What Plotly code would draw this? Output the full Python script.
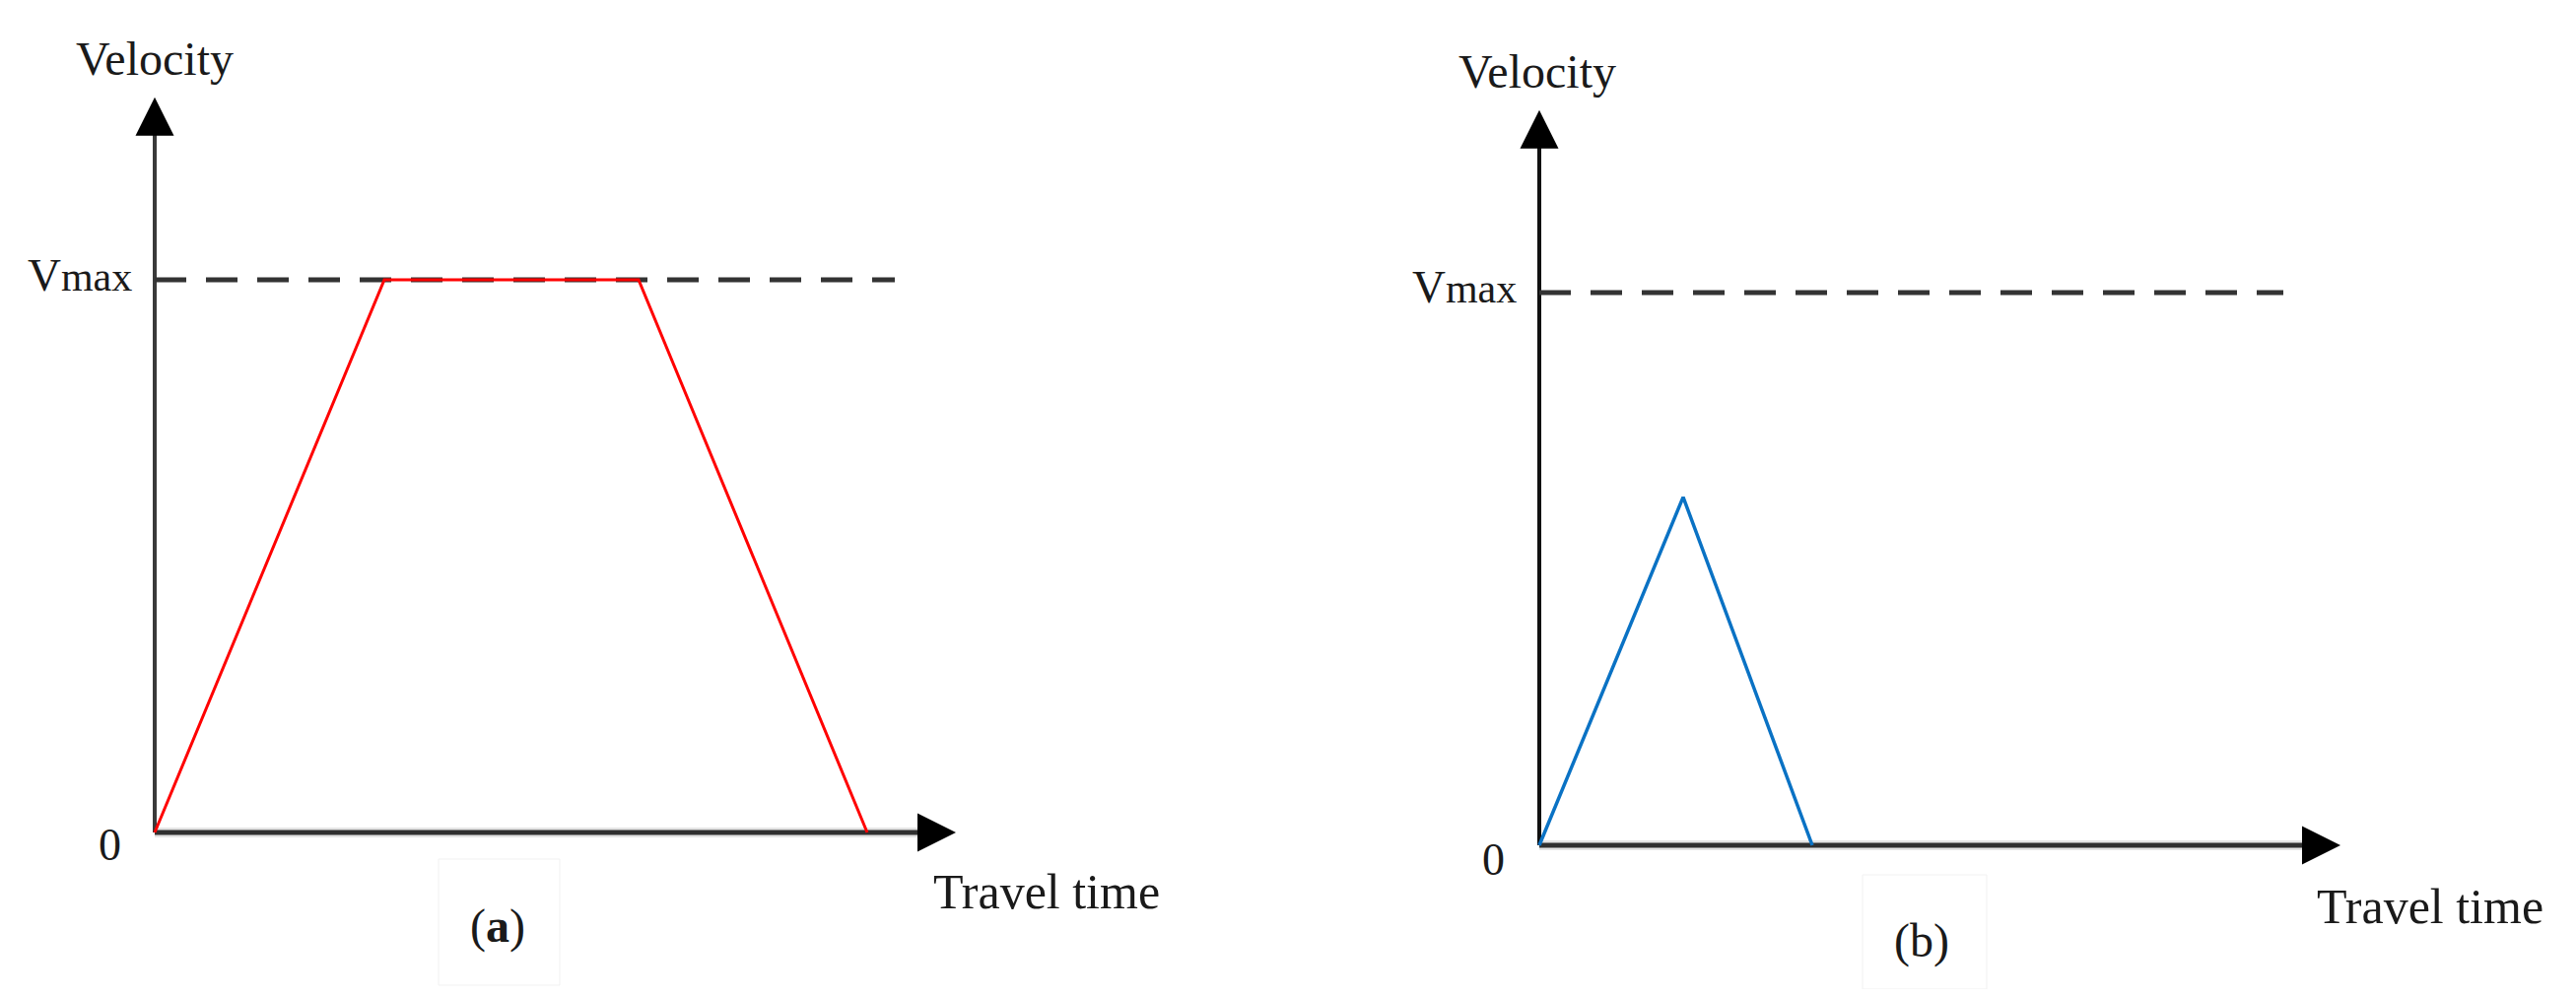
import plotly.graph_objects as go

# page (screenshot) size and the default 8px body margin of the html page
PAGE_W, PAGE_H = 2614, 1012
BODY = 8
W, H = PAGE_W - 2 * BODY, PAGE_H - 2 * BODY

# ---------------- data ----------------
VMAX = 1.0
time_a = [0, 2.33, 4.91, 7.23]          # trapezoidal profile (a)
vel_a = [0, 1.0, 1.0, 0]
time_b = [0, 1.46, 2.77]                # triangular profile (b)
vel_b = [0, 0.63, 0]
X_AXIS_END = 8.13
Y_AXIS_END = 1.33
VMAX_LINE_END = [7.51, 7.55]
panel_labels = ["(<b>a</b>)", "(b)"]
x_title = "Travel time"
y_title = "Velocity"
vmax_label = "V<span style='font-size:42px'>max</span>"
zero_label = "0"

# ---------------- geometry (page pixels) ----------------
PX_X = 100.0
PX_Y = 561.0
origins = [(157, 845), (1562, 858)]
dom_px = [(BODY, 1300), (1307, PAGE_W - BODY)]
FONT = "Liberation Serif"
TXT = "#1a1a1a"
AX = "#303030"

fig = go.Figure()

profiles = [(time_a, vel_a, "#FF0000", 3), (time_b, vel_b, "#0A72C4", 3.5)]

for i in range(2):
    xa = "x" if i == 0 else "x2"
    ya = "y" if i == 0 else "y2"
    fig.add_trace(go.Scatter(x=[0, X_AXIS_END - 0.2], y=[0, 0], mode="lines",
                             line=dict(color="#e4e4e4", width=10), xaxis=xa, yaxis=ya,
                             hoverinfo="skip", showlegend=False))
    fig.add_trace(go.Scatter(x=[0, X_AXIS_END - 0.2], y=[0, 0], mode="lines",
                             line=dict(color=AX, width=5), xaxis=xa, yaxis=ya,
                             hoverinfo="skip", showlegend=False))
    fig.add_trace(go.Scatter(x=[0, 0], y=[0, Y_AXIS_END - 0.035], mode="lines",
                             line=dict(color="#3a3a3a" if i == 0 else "#111111", width=4),
                             xaxis=xa, yaxis=ya, hoverinfo="skip", showlegend=False))
    fig.add_trace(go.Scatter(x=[0, VMAX_LINE_END[i]], y=[VMAX, VMAX], mode="lines",
                             line=dict(color="#333333", width=5, dash="32px,20px"),
                             xaxis=xa, yaxis=ya, hoverinfo="skip", showlegend=False))
    tx, vy, col, lw = profiles[i]
    fig.add_trace(go.Scatter(x=tx, y=vy, mode="lines", line=dict(color=col, width=lw),
                             xaxis=xa, yaxis=ya, hoverinfo="skip", showlegend=False))
    fig.add_trace(go.Scatter(x=[0], y=[Y_AXIS_END], mode="markers",
                             marker=dict(symbol="arrow-up", size=39, color="#000000",
                                         line=dict(width=0)),
                             xaxis=xa, yaxis=ya, hoverinfo="skip", showlegend=False))
    fig.add_trace(go.Scatter(x=[X_AXIS_END], y=[0], mode="markers",
                             marker=dict(symbol="arrow-right", size=39, color="#000000",
                                         line=dict(width=0)),
                             xaxis=xa, yaxis=ya, hoverinfo="skip", showlegend=False))

layout_axes = {}
for i in range(2):
    ox, oy = origins[i]
    d0, d1 = dom_px[i]
    xr = [(d0 - ox) / PX_X, (d1 - ox) / PX_X]
    yr = [(oy - (PAGE_H - BODY)) / PX_Y, (oy - BODY) / PX_Y]
    sx = "xaxis" if i == 0 else "xaxis2"
    sy = "yaxis" if i == 0 else "yaxis2"
    layout_axes[sx] = dict(domain=[(d0 - BODY) / W, (d1 - BODY) / W], range=xr,
                           visible=False, fixedrange=True,
                           anchor="y" if i == 0 else "y2")
    layout_axes[sy] = dict(domain=[0, 1], range=yr, visible=False,
                           fixedrange=True, anchor="x" if i == 0 else "x2")


def P(x, y):
    return (x - BODY) / W, 1 - (y - BODY) / H


annotations = []
shapes = []
vel_off = [(0, -785), (-2, -786)]
vmax_off = [(-21, -566), (-21, -567)]
zero_off = [(-46, 12), (-47, 14)]
tt_off = [(788, 60), (787, 62)]
pl_off = [(348, 95), (388, 97)]
boxes = [(445, 872, 568, 1000), (1890, 888, 2016, 1011)]

for i in range(2):
    ox, oy = origins[i]

    def add(text, off, xanchor="center", size=46):
        px, py = P(ox + off[0], oy + off[1])
        annotations.append(dict(text=text, x=px, y=py, xref="paper", yref="paper",
                                xanchor=xanchor, yanchor="middle", showarrow=False,
                                font=dict(family=FONT, size=size, color=TXT)))
    add(y_title, vel_off[i], size=48)
    add(vmax_label, vmax_off[i], xanchor="right", size=47)
    add(zero_label, zero_off[i])
    add(x_title, tt_off[i], xanchor="left", size=50)
    add(panel_labels[i], pl_off[i], size=48)
    bx0, by0, bx1, by1 = boxes[i]
    x0, y1 = P(bx0, by0)
    x1, y0 = P(bx1, min(by1, PAGE_H - BODY))
    shapes.append(dict(type="rect", xref="paper", yref="paper",
                       x0=x0, x1=x1, y0=y0, y1=y1,
                       line=dict(color="#f1f1f1", width=1), layer="below"))

fig.update_layout(width=W, height=H, margin=dict(l=0, r=0, t=0, b=0),
                  paper_bgcolor="white", plot_bgcolor="rgba(0,0,0,0)",
                  annotations=annotations, shapes=shapes, showlegend=False,
                  **layout_axes)

fig.write_html("out.html")
